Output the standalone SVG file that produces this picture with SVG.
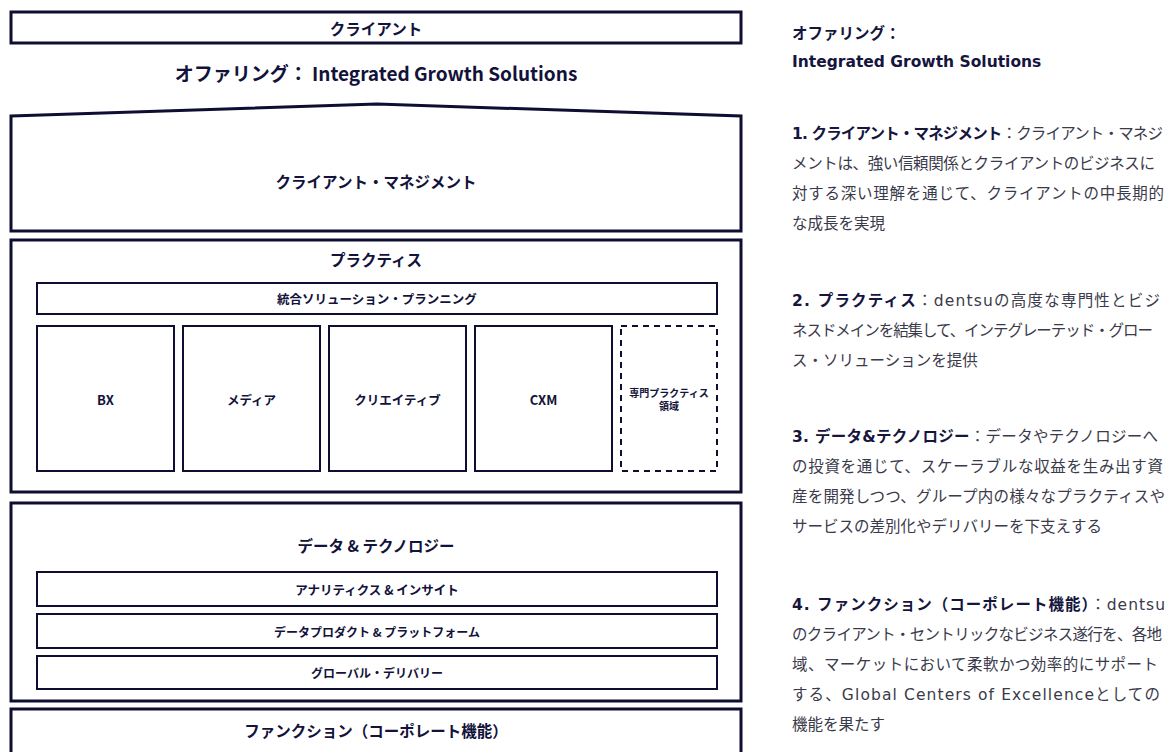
<svg xmlns="http://www.w3.org/2000/svg" width="1168" height="752" viewBox="0 0 1168 752">
<style>
.box{fill:#fff;stroke:#0e0e33;stroke-width:3}
.inner{fill:#fff;stroke:#0e0e33;stroke-width:2}
.dash{fill:#fff;stroke:#0e0e33;stroke-width:2;stroke-dasharray:6 5}
.lbl{font-family:"Noto Sans CJK JP",sans-serif;font-weight:700;fill:#12123a;text-anchor:middle;dominant-baseline:central}
.rt{font-family:"DejaVu Sans","Noto Sans CJK JP",sans-serif;font-size:15.5px;fill:#3a3a4a}
.rb{font-weight:700;fill:#15153d}
</style>
<rect width="1168" height="752" fill="#fff"/>
<g id="client">
<rect class="box" x="11" y="12" width="730" height="31"/>
<text class="lbl" x="376" y="27.5" font-size="15.5">クライアント</text>
</g>
<g id="offering-title">
<text class="lbl" x="376" y="72" font-size="19">オファリング： Integrated Growth Solutions</text>
</g>
<g id="client-management">
<path class="box" d="M11,116 L377,104 L741,116 L741,231 L11,231 Z"/>
<text class="lbl" x="376" y="181" font-size="15.5">クライアント・マネジメント</text>
</g>
<g id="practice">
<rect class="box" x="11" y="240" width="730" height="252"/>
<text class="lbl" x="376" y="259" font-size="15.5">プラクティス</text>
</g>
<g id="integrated-planning">
<rect class="inner" x="37" y="283" width="680" height="31"/>
<text class="lbl" x="377" y="298.5" font-size="12.5">統合ソリューション・プランニング</text>
</g>
<g id="bx">
<rect class="inner" x="37" y="326" width="137" height="145"/>
<text class="lbl" x="105.5" y="399" font-size="13">BX</text>
</g>
<g id="media">
<rect class="inner" x="183" y="326" width="137" height="145"/>
<text class="lbl" x="251.5" y="399" font-size="12.5">メディア</text>
</g>
<g id="creative">
<rect class="inner" x="329" y="326" width="137" height="145"/>
<text class="lbl" x="397.5" y="399" font-size="12.5">クリエイティブ</text>
</g>
<g id="cxm">
<rect class="inner" x="475" y="326" width="137" height="145"/>
<text class="lbl" x="543.5" y="399" font-size="13">CXM</text>
</g>
<g id="specialist">
<rect class="dash" x="621" y="326" width="96" height="145"/>
<text class="lbl" x="669" y="392" font-size="10">専門プラクティス</text>
<text class="lbl" x="669" y="405" font-size="10">領域</text>
</g>
<g id="data-tech">
<rect class="box" x="11" y="503" width="730" height="198"/>
<text class="lbl" x="376" y="545" font-size="15.5">データ &amp; テクノロジー</text>
</g>
<g id="analytics">
<rect class="inner" x="37" y="572" width="680" height="34"/>
<text class="lbl" x="377" y="589" font-size="12.5">アナリティクス &amp; インサイト</text>
</g>
<g id="data-products">
<rect class="inner" x="37" y="614" width="680" height="34"/>
<text class="lbl" x="377" y="631" font-size="12">データプロダクト &amp; プラットフォーム</text>
</g>
<g id="global-delivery">
<rect class="inner" x="37" y="656" width="680" height="33"/>
<text class="lbl" x="377" y="672.5" font-size="12">グローバル・デリバリー</text>
</g>
<g id="functions">
<rect class="box" x="11" y="709" width="730" height="60"/>
<text class="lbl" x="376" y="730" font-size="15.5">ファンクション（コーポレート機能）</text>
</g>
<g id="connectors"></g>
<g id="description">
<text class="rt rb" x="792" y="39" font-size="16">オファリング：</text>
<text class="rt rb" x="792" y="67" font-size="17.5">Integrated Growth Solutions</text>
<text class="rt" x="792" y="139" textLength="371"><tspan class="rb">1. クライアント・マネジメント</tspan>：クライアント・マネジ</text>
<text class="rt" x="792" y="169" textLength="363">メントは、強い信頼関係とクライアントのビジネスに</text>
<text class="rt" x="792" y="199" textLength="372">対する深い理解を通じて、クライアントの中長期的</text>
<text class="rt" x="792" y="229">な成長を実現</text>
<text class="rt" x="792" y="306" textLength="368"><tspan class="rb">2. プラクティス</tspan>：dentsuの高度な専門性とビジ</text>
<text class="rt" x="792" y="336" textLength="361">ネスドメインを結集して、インテグレーテッド・グロー</text>
<text class="rt" x="792" y="366">ス・ソリューションを提供</text>
<text class="rt" x="792" y="442" textLength="366"><tspan class="rb">3. データ&amp;テクノロジー</tspan>：データやテクノロジーへ</text>
<text class="rt" x="792" y="472" textLength="371">の投資を通じて、スケーラブルな収益を生み出す資</text>
<text class="rt" x="792" y="502" textLength="373">産を開発しつつ、グループ内の様々なプラクティスや</text>
<text class="rt" x="792" y="532">サービスの差別化やデリバリーを下支えする</text>
<text class="rt" x="792" y="610" textLength="373"><tspan class="rb">4. ファンクション（コーポレート機能）</tspan>：dentsu</text>
<text class="rt" x="792" y="640" textLength="370">のクライアント・セントリックなビジネス遂行を、各地</text>
<text class="rt" x="792" y="670" textLength="366">域、マーケットにおいて柔軟かつ効率的にサポート</text>
<text class="rt" x="792" y="700" textLength="368">する、Global Centers of Excellenceとしての</text>
<text class="rt" x="792" y="730">機能を果たす</text>
</g>
</svg>
